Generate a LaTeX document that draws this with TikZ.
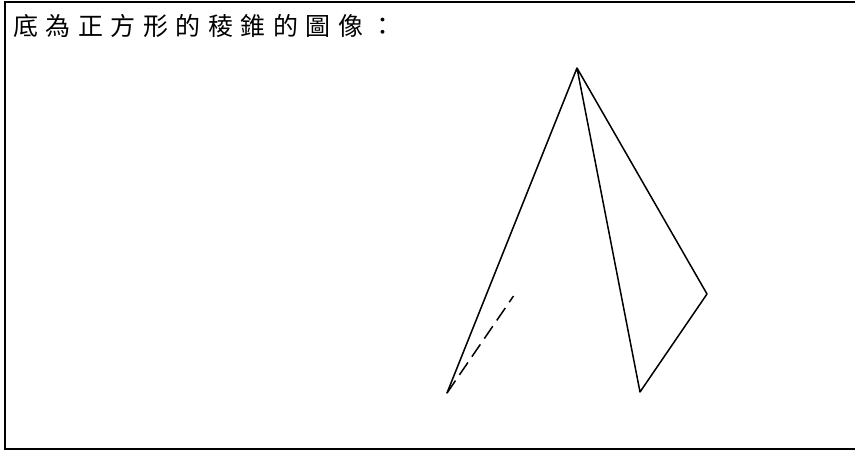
\documentclass[tikz,border=0pt]{standalone}
\usepackage{fontspec}
\newfontfamily\cjk[LetterSpace=30]{Noto Sans CJK TC}
\tikzset{edge/.style={draw=black,line width=1.5pt,line cap=round,line join=round},
frame/.style={draw=black,line width=2pt,line cap=butt},
title/.style={anchor=west,inner sep=0pt,font=\cjk\fontsize{25}{28}\selectfont}}
\begin{document}
\begin{tikzpicture}[x=1pt,y=-1pt]
\useasboundingbox (0,0) rectangle (855,450);
\coordinate (F1) at (855,2);
\coordinate (F2) at (4.5,2);
\coordinate (F3) at (4.5,449);
\coordinate (F4) at (855,449);
\draw[frame] (F1) -- (F2) -- (F3) -- (F4);
\node[title] (t) at (13,26) {底為正方形的稜錐的圖像：};
\coordinate (A) at (577,68);
\coordinate (B) at (447,393);
\coordinate (C) at (640,392);
\coordinate (D) at (707,294);
\coordinate (E) at (513.5,296);
\draw[edge] (B) -- (A) -- (C) -- (D) -- (A);
\draw[edge,line cap=butt,dash pattern=on 15pt off 7pt] (B) -- (E);
\end{tikzpicture}
\end{document}
